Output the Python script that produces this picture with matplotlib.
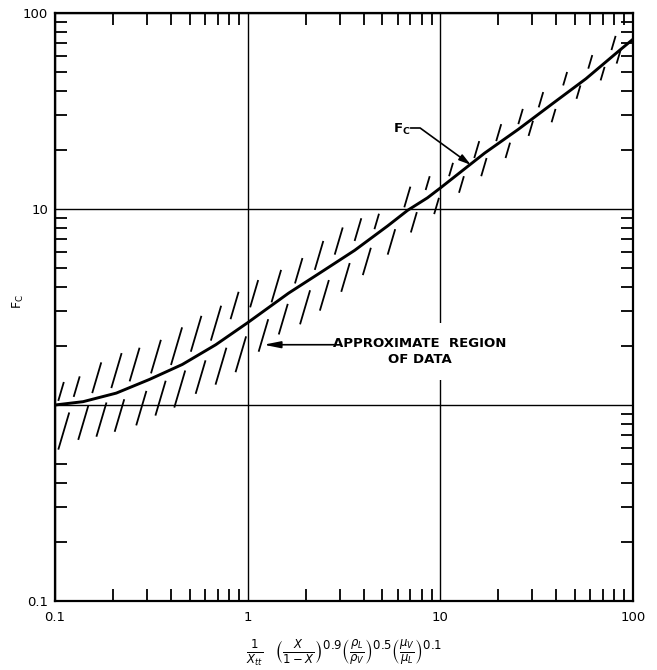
import numpy as np
import matplotlib.pyplot as plt

# Two-phase multiplier F_c against the Martinelli parameter group
param = [0.1, 0.14, 0.208, 0.309, 0.458, 0.683, 1.0, 1.63, 2.42, 3.59, 5.33,
         6.76, 8.57, 10.0, 17.0, 25.4, 38.1, 57.0, 85.5, 100.0]
fc = [1.0, 1.04, 1.15, 1.35, 1.61, 2.03, 2.63, 3.72, 4.78, 6.15, 8.2,
      9.84, 11.4, 12.8, 19.3, 25.5, 34.4, 46.2, 64.7, 73.5]

# hatch strokes marking the spread of the data (foot x, foot y, head y)
upper_x = [0.104, 0.125, 0.156, 0.196, 0.244, 0.315, 0.400, 0.507, 0.644,
           0.815, 1.03, 1.33, 1.76, 2.23, 2.83, 3.59, 4.55, 6.50, 8.39,
           11.1, 15.0, 19.5, 25.4, 32.4, 43.4, 58.6, 77.3]
upper_lo = [1.05, 1.10, 1.15, 1.22, 1.32, 1.45, 1.60, 1.87, 2.13, 2.74,
            3.15, 3.34, 4.17, 4.89, 5.85, 6.87, 7.89, 10.2, 12.5, 14.7,
            18.2, 22.2, 27.1, 33.0, 42.7, 52.0, 64.7]
upper_hi = [1.31, 1.40, 1.65, 1.84, 1.96, 2.15, 2.49, 2.85, 3.21, 3.78,
            4.34, 4.89, 5.62, 6.87, 8.05, 8.97, 9.46, 13.0, 14.7, 17.2,
            22.2, 27.1, 32.4, 39.5, 50.0, 61.0, 76.4]

lower_x = [0.104, 0.132, 0.164, 0.204, 0.264, 0.332, 0.416, 0.537, 0.681,
           0.865, 1.14, 1.45, 1.87, 2.37, 3.06, 3.96, 5.33, 7.03, 9.29,
           12.5, 16.3, 21.8, 28.7, 37.8, 50.9, 67.9, 82.2]
lower_lo = [0.592, 0.664, 0.689, 0.730, 0.787, 0.883, 0.970, 1.14, 1.27,
            1.47, 1.87, 2.29, 2.58, 3.03, 3.78, 4.60, 5.85, 7.59, 9.42,
            12.1, 14.7, 18.2, 23.6, 27.7, 36.5, 45.3, 55.2]
lower_hi = [0.916, 0.99, 1.03, 1.07, 1.18, 1.33, 1.50, 1.69, 1.96, 2.24,
            2.74, 3.28, 3.85, 4.34, 5.30, 6.34, 7.89, 9.64, 11.4, 14.7,
            18.2, 21.8, 28.2, 32.4, 42.7, 53.1, 66.1]

xticks = [0.1, 1, 10, 100]
xticklabels = ['0.1', '1', '10', '100']
yticks = [0.1, 1, 10, 100]
yticklabels = ['0.1', '', '10', '100']

fig = plt.figure(figsize=(6.57, 6.70), dpi=100)
ax = fig.add_axes([55/657, 69/670, 578/657, 588/670])
ax.set_xscale('log')
ax.set_yscale('log')
ax.set_xlim(0.1, 100)
ax.set_ylim(0.1, 100)

ax.grid(which='major', color='black', lw=1.0)
ax.set_axisbelow(True)

# slanted hatch strokes, leaning right as they rise
slant = 0.3
for xs, lo, hi in [(upper_x, upper_lo, upper_hi), (lower_x, lower_lo, lower_hi)]:
    for x0, y0, y1 in zip(xs, lo, hi):
        x1 = x0 * (y1 / y0) ** slant
        ax.plot([x0, x1], [y0, y1], color='black', lw=1.3, solid_capstyle='butt')

ax.plot(param, fc, color='black', lw=2.1, solid_capstyle='round')

for s in ax.spines.values():
    s.set_linewidth(1.6)

ax.set_xticks(xticks, labels=xticklabels)
ax.set_yticks(yticks, labels=yticklabels)
ax.tick_params(which='major', length=0, labelsize=9.5, pad=7)
ax.tick_params(axis='y', which='major', pad=5)
ax.tick_params(which='minor', direction='in', length=8.6, width=1.3,
               top=True, right=True, labelleft=False, labelbottom=False)

# the left-hand minor ticks between 0.6 and 0.9 sit under the hatching
fig.canvas.draw()
for t in ax.yaxis.get_minor_ticks():
    if 0.55 < t.get_loc() < 0.95:
        t.tick1line.set_visible(False)

ax.set_ylabel('F$_\\mathregular{C}$', fontsize=9)
ax.yaxis.set_label_coords(-0.05, 0.51)
ax.set_xlabel(r'$\frac{1}{X_{tt}}\ \ \left(\frac{X}{1-X}\right)^{0.9}'
              r'\left(\frac{\rho_L}{\rho_V}\right)^{0.5}'
              r'\left(\frac{\mu_V}{\mu_L}\right)^{0.1}$',
              fontsize=12, labelpad=10)

ax.text(6.3, 25.6, 'F$_\\mathregular{C}$', fontsize=9.5, fontweight='bold',
        ha='center', va='center')
ax.annotate('', xy=(14.4, 16.8), xytext=(7.0, 25.9),
            arrowprops=dict(arrowstyle='-|>,head_length=0.7,head_width=0.2',
                            color='black', lw=1.2,
                            connectionstyle='angle,angleA=0,angleB=-36,rad=0',
                            shrinkA=0, shrinkB=0))

ax.text(7.8, 2.22, 'APPROXIMATE  REGION\nOF DATA', fontsize=9.5,
        fontweight='bold', ha='center', va='top', multialignment='center',
        linespacing=1.25, zorder=4,
        bbox=dict(boxstyle='square,pad=1.1', fc='white', ec='none'))
ax.annotate('', xy=(1.21, 2.03), xytext=(2.8, 2.03), zorder=5,
            arrowprops=dict(arrowstyle='-|>,head_length=1.0,head_width=0.2',
                            color='black', lw=1.2, shrinkA=0, shrinkB=0))

fig.savefig('out.png', dpi=100)
